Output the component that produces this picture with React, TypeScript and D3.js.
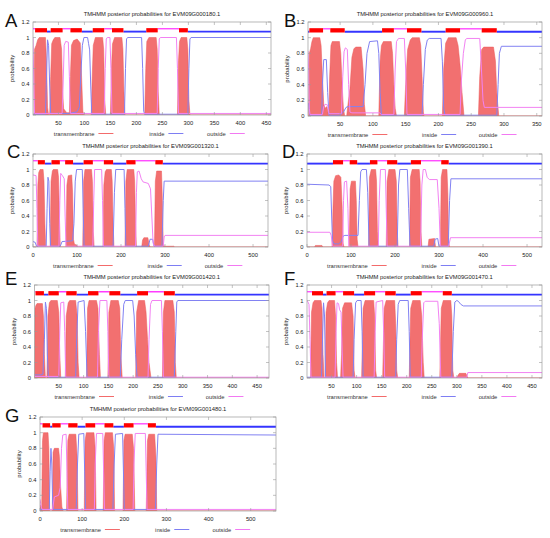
import React from "react";
import * as d3 from "d3";

type Pt = [number, number];

// ---------- Panel A ----------
const aTitle = "TMHMM posterior probabilities for EVM09G000180.1";
const aDomain: Pt = [1, 459];
const aTicks = [50, 100, 150, 200, 250, 300, 350, 400, 450];
const aNTerm = "out";
const aHelices: Pt[] = [[5, 28], [35, 58], [73, 95], [116, 138], [153, 175], [219, 241], [282, 299]];
const aTM: Pt[] = [[1, 0], [3, 0], [4, 0.85], [7, 0.9], [10, 0.97], [13, 1], [25, 1], [27, 0.7], [29, 0.1], [31, 0], [33, 0], [35, 0.5], [37, 0.92], [40, 0.97], [43, 1], [53, 1], [56, 0.85], [58, 0.3], [60, 0.08], [66, 0.03], [71, 0.03], [73, 0.5], [75, 0.9], [79, 0.96], [86, 0.98], [92, 0.93], [95, 0.4], [97, 0.05], [99, 0], [113, 0], [115, 0.5], [117, 0.9], [121, 1], [135, 1], [137, 0.85], [139, 0.2], [141, 0], [150, 0], [152, 0.6], [154, 0.92], [158, 1], [172, 1], [174, 0.85], [176, 0.3], [178, 0], [216, 0], [218, 0.6], [220, 0.95], [224, 1], [238, 1], [240, 0.85], [242, 0.3], [244, 0], [279, 0], [281, 0.7], [283, 0.95], [286, 1], [297, 1], [299, 0.85], [301, 0.2], [303, 0], [459, 0]];
const aIn: Pt[] = [[1, 0.01], [25, 0.01], [27, 0.5], [29, 0.97], [31, 0.9], [33, 0.4], [35, 0.02], [70, 0.02], [85, 0.04], [90, 0.1], [93, 0.5], [96, 0.9], [99, 1], [106, 1], [108, 0.92], [110, 0.84], [112, 0.4], [114, 0.01], [177, 0.01], [179, 0.6], [181, 0.98], [183, 1], [210, 1], [212, 0.6], [214, 0.05], [216, 0.01], [299, 0.01], [301, 0.6], [303, 0.98], [305, 1], [459, 1]];
const aOut: Pt[] = [[1, 1], [2, 0.6], [4, 0.02], [57, 0.02], [59, 0.4], [61, 0.9], [64, 0.95], [69, 0.94], [71, 0.5], [73, 0.02], [138, 0.02], [140, 0.6], [142, 0.98], [144, 1], [149, 1], [151, 0.6], [153, 0.02], [240, 0.02], [242, 0.6], [244, 0.98], [246, 1], [277, 1], [279, 0.6], [281, 0.02], [459, 0.02]];

// ---------- Panel B ----------
const bTitle = "TMHMM posterior probabilities for EVM09G000960.1";
const bDomain: Pt = [1, 358];
const bTicks = [50, 100, 150, 200, 250, 300, 350];
const bNTerm = "in";
const bHelices: Pt[] = [[3, 24], [35, 57], [114, 132], [152, 174], [211, 233], [266, 289]];
const bTM: Pt[] = [[1, 0], [2, 0], [3, 0.8], [5, 0.86], [7, 0.95], [9, 1], [19, 1], [21, 0.9], [23, 0.5], [25, 0.15], [27, 0.1], [30, 0.12], [32, 0.02], [33, 0], [34, 0.5], [36, 0.9], [38, 0.95], [49, 0.95], [51, 0.8], [53, 0.4], [55, 0.1], [57, 0], [60, 0], [62, 0.15], [65, 0.35], [68, 0.75], [71, 0.86], [74, 0.88], [82, 0.88], [85, 0.6], [87, 0.15], [89, 0], [109, 0], [111, 0.7], [113, 0.9], [116, 0.95], [128, 0.95], [130, 0.8], [132, 0.4], [134, 0.1], [136, 0], [148, 0], [150, 0.4], [153, 0.85], [157, 0.97], [160, 1], [171, 1], [173, 0.9], [175, 0.5], [177, 0.05], [178, 0], [206, 0], [208, 0.6], [211, 0.93], [215, 1], [227, 1], [230, 0.9], [233, 0.65], [236, 0.3], [239, 0], [261, 0], [263, 0.5], [266, 0.85], [269, 0.88], [284, 0.88], [287, 0.7], [289, 0.3], [292, 0], [358, 0]];
const bIn: Pt[] = [[1, 0.16], [2, 0.16], [3, 0.05], [4, 0.01], [22, 0.01], [23, 0.4], [25, 0.72], [29, 0.72], [31, 0.3], [33, 0.01], [50, 0.01], [55, 0.05], [59, 0.11], [62, 0.12], [85, 0.12], [88, 0.4], [91, 0.8], [95, 0.95], [107, 0.96], [109, 0.8], [111, 0.3], [113, 0.01], [175, 0.01], [177, 0.4], [180, 0.85], [183, 0.97], [186, 0.99], [204, 0.99], [206, 0.7], [208, 0.1], [210, 0.01], [289, 0.01], [291, 0.4], [293, 0.8], [296, 0.89], [358, 0.89]];
const bOut: Pt[] = [[1, 0.83], [2, 0.6], [3, 0.1], [4, 0.02], [23, 0.02], [25, 0.12], [27, 0.15], [31, 0.14], [33, 0.03], [52, 0.03], [54, 0.5], [56, 0.82], [58, 0.87], [61, 0.85], [63, 0.4], [65, 0.05], [68, 0.04], [110, 0.04], [113, 0.02], [132, 0.02], [134, 0.6], [136, 0.95], [139, 0.99], [148, 0.99], [150, 0.6], [152, 0.02], [233, 0.02], [235, 0.45], [238, 0.8], [241, 0.97], [243, 0.99], [263, 0.99], [265, 0.7], [268, 0.2], [270, 0.11], [358, 0.11]];

// ---------- Panel C ----------
const cTitle = "TMHMM posterior probabilities for EVM09G001320.1";
const cDomain: Pt = [0, 534];
const cTicks = [0, 100, 200, 300, 400, 500];
const cNTerm = "out";
const cHelices: Pt[] = [[11, 27], [42, 61], [73, 91], [115, 136], [161, 182], [212, 233], [278, 295]];
const cTM: Pt[] = [[0, 0], [9, 0], [11, 0.8], [13, 0.96], [16, 1], [23, 1], [25, 0.85], [27, 0.3], [29, 0], [39, 0], [41, 0.85], [44, 0.98], [46, 1], [56, 1], [58, 0.9], [60, 0.4], [62, 0], [75, 0], [77, 0.8], [80, 0.92], [88, 0.93], [90, 0.7], [92, 0.1], [94, 0.04], [100, 0.02], [102, 0], [113, 0], [115, 0.85], [118, 1], [133, 1], [135, 0.85], [137, 0.2], [139, 0], [159, 0], [161, 0.8], [164, 0.97], [167, 1], [178, 1], [180, 0.85], [182, 0.3], [184, 0], [209, 0], [211, 0.85], [214, 1], [229, 1], [231, 0.85], [233, 0.3], [235, 0], [247, 0], [249, 0.09], [252, 0.12], [261, 0.12], [264, 0.03], [266, 0], [276, 0], [278, 0.85], [281, 0.98], [292, 0.98], [294, 0.6], [296, 0.05], [298, 0.01], [320, 0.01], [322, 0], [534, 0]];
const cIn: Pt[] = [[0, 0.07], [5, 0.06], [8, 0.01], [30, 0.01], [32, 0.5], [34, 0.9], [36, 0.85], [38, 0.3], [40, 0.01], [62, 0.01], [66, 0.07], [90, 0.08], [93, 0.3], [96, 0.85], [99, 1], [112, 1], [114, 0.5], [116, 0.01], [182, 0.01], [185, 0.7], [188, 1], [207, 1], [209, 0.5], [211, 0.01], [262, 0.01], [266, 0.1], [272, 0.1], [275, 0.01], [293, 0.01], [296, 0.6], [298, 0.85], [534, 0.85]];
const cOut: Pt[] = [[0, 0.93], [7, 0.92], [9, 0.5], [11, 0.01], [59, 0.01], [61, 0.6], [63, 0.95], [67, 0.92], [71, 0.88], [73, 0.4], [75, 0.01], [136, 0.01], [138, 0.6], [140, 1], [156, 1], [158, 0.6], [160, 0.01], [233, 0.01], [235, 0.7], [237, 0.97], [241, 0.98], [246, 0.88], [250, 0.84], [262, 0.82], [267, 0.75], [270, 0.4], [273, 0.05], [276, 0.01], [296, 0.01], [298, 0.13], [300, 0.15], [534, 0.15]];

// ---------- Panel D ----------
const dTitle = "TMHMM posterior probabilities for EVM09G001390.1";
const dDomain: Pt = [0, 534];
const dTicks = [0, 100, 200, 300, 400, 500];
const dNTerm = "in";
const dHelices: Pt[] = [[59, 82], [97, 114], [143, 160], [182, 205], [236, 259], [305, 322]];
const dTM: Pt[] = [[0, 0], [17, 0], [19, 0.02], [34, 0.02], [36, 0], [57, 0], [59, 0.5], [61, 0.85], [65, 0.92], [72, 0.93], [77, 0.9], [80, 0.5], [82, 0.05], [84, 0], [96, 0], [98, 0.75], [101, 0.85], [110, 0.85], [112, 0.6], [114, 0.1], [116, 0], [140, 0], [142, 0.9], [146, 1], [156, 1], [158, 0.85], [160, 0.2], [162, 0], [180, 0], [182, 0.85], [186, 1], [200, 1], [203, 0.85], [205, 0.2], [207, 0], [233, 0], [235, 0.9], [239, 1], [255, 1], [257, 0.85], [259, 0.2], [261, 0], [275, 0], [277, 0.1], [290, 0.11], [292, 0], [303, 0], [305, 0.9], [308, 1], [318, 1], [320, 0.7], [322, 0.05], [324, 0], [534, 0]];
const dIn: Pt[] = [[0, 0.81], [50, 0.8], [54, 0.78], [56, 0.4], [58, 0.08], [62, 0.04], [72, 0.04], [78, 0.07], [82, 0.14], [86, 0.15], [116, 0.15], [119, 0.6], [122, 0.97], [125, 1], [135, 1], [138, 0.7], [141, 0.01], [205, 0.01], [208, 0.8], [211, 1], [228, 1], [231, 0.5], [234, 0.01], [288, 0.01], [291, 0.1], [297, 0.11], [300, 0.01], [321, 0.01], [324, 0.6], [327, 0.88], [534, 0.88]];
const dOut: Pt[] = [[0, 0.19], [52, 0.19], [55, 0.15], [58, 0.01], [81, 0.01], [83, 0.6], [85, 0.84], [90, 0.85], [93, 0.5], [95, 0.01], [162, 0.01], [164, 0.6], [167, 1], [178, 1], [180, 0.5], [182, 0.01], [258, 0.01], [261, 0.8], [264, 1], [269, 1], [273, 0.9], [278, 0.87], [296, 0.87], [300, 0.5], [303, 0.01], [322, 0.01], [326, 0.12], [534, 0.12]];

// ---------- Panel E ----------
const eTitle = "TMHMM posterior probabilities for EVM09G001420.1";
const eDomain: Pt = [1, 474];
const eTicks = [50, 100, 150, 200, 250, 300, 350, 400, 450];
const eNTerm = "out";
const eHelices: Pt[] = [[3, 20], [29, 50], [65, 86], [109, 130], [152, 174], [208, 230], [262, 284]];
const eTM: Pt[] = [[1, 0.05], [2, 0.9], [4, 0.94], [6, 0.96], [17, 0.96], [19, 0.8], [21, 0.3], [23, 0], [26, 0], [28, 0.8], [31, 0.97], [34, 1], [47, 1], [50, 0.85], [52, 0.3], [54, 0], [63, 0], [65, 0.8], [69, 0.97], [72, 1], [84, 1], [87, 0.8], [89, 0.2], [91, 0], [106, 0], [108, 0.9], [111, 1], [126, 1], [129, 0.9], [132, 0.3], [134, 0], [149, 0], [151, 0.85], [155, 1], [170, 1], [173, 0.9], [175, 0.3], [178, 0], [205, 0], [207, 0.85], [211, 1], [223, 1], [226, 0.85], [229, 0.5], [232, 0.2], [236, 0], [259, 0], [261, 0.85], [264, 1], [280, 1], [283, 0.85], [285, 0.2], [287, 0], [474, 0]];
const eIn: Pt[] = [[1, 0.04], [14, 0.04], [18, 0.05], [21, 0.5], [23, 0.98], [25, 0.9], [27, 0.3], [29, 0.01], [84, 0.01], [86, 0.5], [89, 0.98], [101, 1], [104, 0.6], [107, 0.01], [174, 0.01], [177, 0.5], [181, 0.95], [184, 1], [199, 1], [202, 0.8], [205, 0.3], [208, 0.01], [283, 0.01], [286, 0.6], [288, 0.98], [290, 1], [474, 1]];
const eOut: Pt[] = [[1, 0.02], [50, 0.02], [52, 0.6], [54, 0.97], [60, 0.98], [62, 0.6], [64, 0.01], [128, 0.01], [130, 0.6], [133, 1], [147, 1], [149, 0.6], [151, 0.01], [230, 0.01], [232, 0.5], [235, 0.95], [238, 1], [257, 1], [259, 0.6], [261, 0.01], [474, 0.01]];

// ---------- Panel F ----------
const fTitle = "TMHMM posterior probabilities for EVM09G001470.1";
const fDomain: Pt = [1, 470];
const fTicks = [50, 100, 150, 200, 250, 300, 350, 400, 450];
const fNTerm = "out";
const fHelices: Pt[] = [[11, 33], [40, 58], [73, 95], [115, 137], [157, 178], [208, 230], [272, 290]];
const fTM: Pt[] = [[1, 0], [8, 0], [10, 0.85], [13, 0.97], [16, 1], [29, 1], [31, 0.9], [33, 0.3], [35, 0], [37, 0], [39, 0.85], [42, 0.97], [45, 1], [56, 1], [58, 0.8], [60, 0.2], [62, 0], [68, 0], [70, 0.3], [72, 0.9], [76, 0.97], [90, 0.97], [93, 0.8], [95, 0.1], [97, 0], [110, 0], [113, 0.9], [117, 1], [134, 1], [136, 0.8], [138, 0.1], [140, 0], [152, 0], [155, 0.9], [159, 1], [176, 1], [178, 0.7], [180, 0.1], [182, 0], [205, 0], [208, 0.9], [212, 1], [227, 1], [230, 0.8], [233, 0.2], [235, 0], [266, 0], [269, 0.9], [273, 1], [288, 1], [290, 0.8], [292, 0.1], [294, 0], [300, 0], [302, 0.03], [305, 0.06], [318, 0.06], [322, 0], [470, 0]];
const fIn: Pt[] = [[1, 0.01], [30, 0.01], [32, 0.5], [34, 0.97], [36, 0.8], [38, 0.01], [93, 0.01], [95, 0.5], [98, 0.97], [101, 1], [109, 1], [111, 0.6], [113, 0.01], [178, 0.01], [180, 0.5], [183, 0.95], [186, 1], [203, 1], [205, 0.6], [207, 0.01], [290, 0.01], [293, 0.6], [296, 0.98], [300, 1], [303, 0.99], [308, 0.95], [313, 0.93], [470, 0.93]];
const fOut: Pt[] = [[1, 1], [3, 0.98], [5, 0.95], [7, 0.5], [9, 0.01], [57, 0.01], [59, 0.6], [61, 0.97], [64, 0.96], [66, 0.88], [69, 0.85], [71, 0.4], [73, 0.01], [135, 0.01], [137, 0.6], [139, 0.98], [152, 1], [154, 0.6], [156, 0.01], [229, 0.01], [231, 0.5], [234, 0.97], [237, 0.99], [262, 0.99], [265, 0.7], [268, 0.01], [320, 0.01], [322, 0.07], [470, 0.07]];

// ---------- Panel G ----------
const gTitle = "TMHMM posterior probabilities for EVM09G001480.1";
const gDomain: Pt = [0, 560];
const gTicks = [0, 100, 200, 300, 400, 500];
const gNTerm = "out";
const gHelices: Pt[] = [[6, 24], [29, 49], [67, 89], [108, 131], [153, 174], [199, 222], [256, 275]];
const gTM: Pt[] = [[0, 0.08], [2, 0.06], [4, 0], [5, 0.5], [6, 0.9], [8, 1], [19, 1], [21, 0.8], [23, 0], [29, 0], [31, 0.75], [34, 0.8], [44, 0.8], [46, 0.7], [49, 0.3], [52, 0.05], [55, 0], [63, 0], [66, 0.9], [69, 0.98], [85, 0.98], [88, 0.7], [90, 0], [105, 0], [107, 0.9], [110, 1], [128, 1], [131, 0.8], [133, 0], [150, 0], [152, 0.9], [155, 1], [172, 1], [175, 0.8], [177, 0], [197, 0], [199, 0.9], [202, 0.98], [219, 0.98], [222, 0.8], [225, 0], [252, 0], [255, 0.9], [258, 0.98], [272, 0.98], [275, 0.7], [277, 0], [560, 0]];
const gIn: Pt[] = [[0, 0.02], [22, 0.02], [24, 0.5], [26, 0.8], [28, 0.6], [30, 0.1], [32, 0.02], [86, 0.02], [89, 0.6], [92, 0.98], [104, 0.99], [106, 0.5], [108, 0.02], [173, 0.02], [176, 0.6], [179, 0.98], [196, 0.99], [198, 0.5], [200, 0.02], [274, 0.02], [277, 0.6], [280, 0.98], [560, 0.97]];
const gOut: Pt[] = [[0, 0.15], [3, 0.05], [5, 0.02], [30, 0.02], [34, 0.18], [44, 0.2], [48, 0.3], [51, 0.8], [54, 0.97], [62, 0.98], [64, 0.5], [66, 0.02], [129, 0.02], [131, 0.6], [134, 0.99], [149, 0.99], [151, 0.5], [153, 0.02], [221, 0.02], [223, 0.6], [226, 0.99], [250, 0.99], [252, 0.5], [254, 0.02], [560, 0.02]];

// ---------- shared ----------
const yTicks = [0, 0.2, 0.4, 0.6, 0.8, 1, 1.2];
const yTickLabels = ["0", "0.2", "0.4", "0.6", "0.8", "1", "1.2"];
const legendLabels = ["transmembrane", "inside", "outside"];
const yLabel = "probability";

const panels = [
  { id: "A", title: aTitle, domain: aDomain, ticks: aTicks, nTerm: aNTerm, helices: aHelices, tm: aTM, inside: aIn, outside: aOut },
  { id: "B", title: bTitle, domain: bDomain, ticks: bTicks, nTerm: bNTerm, helices: bHelices, tm: bTM, inside: bIn, outside: bOut },
  { id: "C", title: cTitle, domain: cDomain, ticks: cTicks, nTerm: cNTerm, helices: cHelices, tm: cTM, inside: cIn, outside: cOut },
  { id: "D", title: dTitle, domain: dDomain, ticks: dTicks, nTerm: dNTerm, helices: dHelices, tm: dTM, inside: dIn, outside: dOut },
  { id: "E", title: eTitle, domain: eDomain, ticks: eTicks, nTerm: eNTerm, helices: eHelices, tm: eTM, inside: eIn, outside: eOut },
  { id: "F", title: fTitle, domain: fDomain, ticks: fTicks, nTerm: fNTerm, helices: fHelices, tm: fTM, inside: fIn, outside: fOut },
  { id: "G", title: gTitle, domain: gDomain, ticks: gTicks, nTerm: gNTerm, helices: gHelices, tm: gTM, inside: gIn, outside: gOut },
];

// layout (pixel boxes of each plot area and panel letter positions)
const layout: Record<string, { l: number; r: number; t: number; b: number; lx: number; ly: number }> = {
  A: { l: 33, r: 271, t: 22, b: 115, lx: 5, ly: 27 },
  B: { l: 308, r: 542, t: 22, b: 116, lx: 284, ly: 27 },
  C: { l: 33, r: 268, t: 154, b: 247, lx: 7, ly: 158 },
  D: { l: 307, r: 542, t: 154, b: 247, lx: 282, ly: 158 },
  E: { l: 34.5, r: 269, t: 285, b: 378, lx: 5, ly: 285 },
  F: { l: 307, r: 542, t: 285, b: 378, lx: 284, ly: 285 },
  G: { l: 40, r: 276, t: 417, b: 511, lx: 5, ly: 422 },
};

const FONT = "'Liberation Sans', Arial, Helvetica, sans-serif";
const RED = "#ff0000";
const BLUE = "#3535ff";
const MAG = "#ff3cff";
const TMFILL = "#f27070";
const TMEDGE = "#ec5656";
const INLINE = "#8282f2";
const OUTLINE = "#f282f2";
const AXIS = "#9a9a9a";

function topology(helices: Pt[], domain: Pt, nTerm: string) {
  const segs: { from: number; to: number; side: string }[] = [];
  let side = nTerm;
  let pos = domain[0];
  helices.forEach(([s, e]) => {
    segs.push({ from: pos, to: s, side });
    pos = e;
    side = side === "in" ? "out" : "in";
  });
  segs.push({ from: pos, to: domain[1], side });
  return segs;
}

function Panel({ p }: { p: (typeof panels)[number] }) {
  const L = layout[p.id];
  const x = d3.scaleLinear().domain(p.domain).range([L.l, L.r]);
  const y = d3.scaleLinear().domain([0, 1.2]).range([L.b, L.t]);
  const area = d3
    .area<Pt>()
    .x((d) => x(d[0]))
    .y0(y(0))
    .y1((d) => y(d[1]));
  const line = d3
    .line<Pt>()
    .x((d) => x(d[0]))
    .y((d) => y(d[1]));
  const segs = topology(p.helices, p.domain, p.nTerm);
  const cx = (L.l + L.r) / 2;
  const w = L.r - L.l;
  const legY = L.b + 18.5;
  const legendCols = [
    { end: L.l + 0.258 * w, color: "#f25a5a" },
    { end: L.l + 0.552 * w, color: "#6f6ff2" },
    { end: L.l + 0.81 * w, color: "#f06af0" },
  ];
  return (
    <g>
      <text x={L.lx} y={L.ly} fontSize={18.5} fontFamily={FONT} fill="#111">
        {p.id}
      </text>
      <text x={cx} y={L.t - 6.5} fontSize={5.8} fontFamily={FONT} textAnchor="middle" fill="#222">
        {p.title}
      </text>
      <clipPath id={"clip" + p.id}>
        <rect x={L.l} y={L.t} width={L.r - L.l} height={L.b - L.t} />
      </clipPath>
      <g clipPath={`url(#clip${p.id})`}>
        <path d={area(p.tm) || ""} fill={TMFILL} stroke={TMEDGE} strokeWidth={0.5} />
        <path d={line(p.inside) || ""} fill="none" stroke={INLINE} strokeWidth={1} />
        <path d={line(p.outside) || ""} fill="none" stroke={OUTLINE} strokeWidth={1} />
        {segs.map((s, i) =>
          s.side === "in" ? (
            <line key={"s" + i} x1={x(s.from)} x2={x(s.to)} y1={y(1.076)} y2={y(1.076)} stroke={BLUE} strokeWidth={1.9} />
          ) : (
            <line key={"s" + i} x1={x(s.from)} x2={x(s.to)} y1={y(1.113)} y2={y(1.113)} stroke={MAG} strokeWidth={1.3} />
          )
        )}
        {p.helices.map((h, i) => (
          <rect key={"h" + i} x={x(h[0])} y={y(1.121)} width={x(h[1]) - x(h[0])} height={y(1.066) - y(1.121)} fill={RED} />
        ))}
      </g>
      <rect x={L.l} y={L.t} width={L.r - L.l} height={L.b - L.t} fill="none" stroke={AXIS} strokeWidth={0.7} />
      {yTicks.map((v, i) => (
        <g key={"y" + i}>
          <line x1={L.l} x2={L.l + 3} y1={y(v)} y2={y(v)} stroke={AXIS} strokeWidth={0.6} />
          <line x1={L.r} x2={L.r - 3} y1={y(v)} y2={y(v)} stroke={AXIS} strokeWidth={0.6} />
          <text x={L.l - 3.5} y={y(v) + 2} fontSize={5.8} fontFamily={FONT} textAnchor="end" fill="#222">
            {yTickLabels[i]}
          </text>
        </g>
      ))}
      {p.ticks.map((v) => (
        <g key={"x" + v}>
          <line x1={x(v)} x2={x(v)} y1={L.b} y2={L.b - 3} stroke={AXIS} strokeWidth={0.6} />
          <line x1={x(v)} x2={x(v)} y1={L.t} y2={L.t + 3} stroke={AXIS} strokeWidth={0.6} />
          <text x={x(v)} y={L.b + 10} fontSize={5.8} fontFamily={FONT} textAnchor="middle" fill="#222">
            {v}
          </text>
        </g>
      ))}
      <text
        transform={`translate(${L.l - 19},${(L.t + L.b) / 2}) rotate(-90)`}
        fontSize={6}
        fontFamily={FONT}
        textAnchor="middle"
        fill="#222"
      >
        {yLabel}
      </text>
      {legendLabels.map((lab, i) => (
        <g key={"lg" + i}>
          <text x={legendCols[i].end} y={legY + 2} fontSize={5.8} fontFamily={FONT} textAnchor="end" fill="#333">
            {lab}
          </text>
          <line x1={legendCols[i].end + 4} x2={legendCols[i].end + 19} y1={legY} y2={legY} stroke={legendCols[i].color} strokeWidth={0.9} />
        </g>
      ))}
    </g>
  );
}

export default function App() {
  return (
    <svg
      width={550}
      height={538}
      style={{ position: "absolute", left: 0, top: 0, background: "#fff", display: "block" }}
    >
      <rect width={550} height={538} fill="#fff" />
      {panels.map((p) => (
        <Panel key={p.id} p={p} />
      ))}
    </svg>
  );
}
